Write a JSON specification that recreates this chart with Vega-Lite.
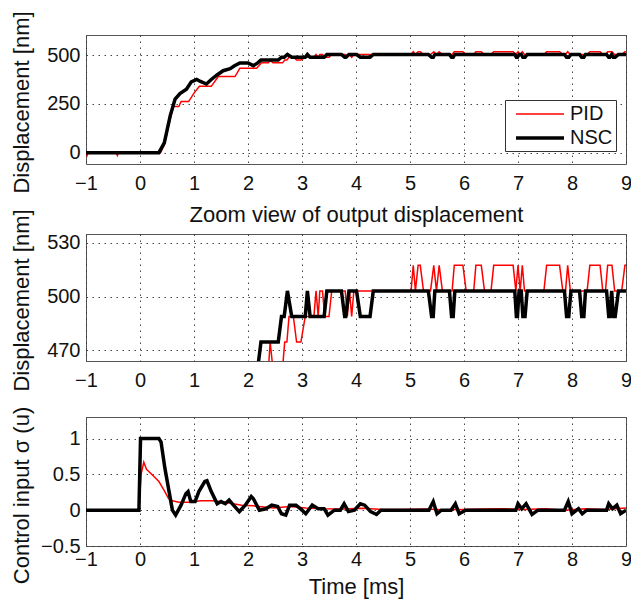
{
  "$schema": "https://vega.github.io/schema/vega-lite/v6.json",
  "padding": {"left": 9, "top": 10, "right": 0, "bottom": 4},
  "background": "white",
  "config": {
    "font": "Liberation Sans",
    "view": {"stroke": "#555555", "strokeWidth": 1},
    "axis": {
      "domain": false, "ticks": false, "grid": true,
      "gridColor": "#333333", "gridDash": [1.5, 4.5], "gridWidth": 1, "gridOpacity": 0.9,
      "labelFont": "Liberation Sans", "titleFont": "Liberation Sans",
      "labelFontSize": 20, "titleFontSize": 22, "titleFontWeight": "normal",
      "labelColor": "#111111", "titleColor": "#111111", "format": ".6~g"
    },
    "axisX": {"labelPadding": 9, "labelFlush": false},
    "axisY": {"labelPadding": 6, "titleX": -53}
  },
  "datasets": {
    "disp": [
      {"t": -1, "v": 0, "c": "PID"}, {"t": -0.98, "v": -14, "c": "PID"}, {"t": -0.96, "v": 0, "c": "PID"},
      {"t": -0.44, "v": 0, "c": "PID"}, {"t": -0.42, "v": -14, "c": "PID"}, {"t": -0.4, "v": 0, "c": "PID"},
      {"t": 0.38, "v": 0, "c": "PID"}, {"t": 0.45, "v": 40, "c": "PID"}, {"t": 0.56, "v": 175, "c": "PID"},
      {"t": 0.62, "v": 236, "c": "PID"}, {"t": 0.72, "v": 236, "c": "PID"}, {"t": 0.76, "v": 262, "c": "PID"},
      {"t": 0.9, "v": 262, "c": "PID"}, {"t": 1.0, "v": 305, "c": "PID"}, {"t": 1.1, "v": 340, "c": "PID"},
      {"t": 1.32, "v": 340, "c": "PID"}, {"t": 1.45, "v": 390, "c": "PID"}, {"t": 1.76, "v": 390, "c": "PID"},
      {"t": 1.85, "v": 433, "c": "PID"}, {"t": 2.16, "v": 433, "c": "PID"}, {"t": 2.25, "v": 460.3, "c": "PID"},
      {"t": 2.38, "v": 460.3, "c": "PID"}, {"t": 2.41, "v": 474.6, "c": "PID"}, {"t": 2.46, "v": 460.3, "c": "PID"},
      {"t": 2.64, "v": 460.3, "c": "PID"}, {"t": 2.68, "v": 474.6, "c": "PID"}, {"t": 2.72, "v": 474.6, "c": "PID"},
      {"t": 2.76, "v": 488.9, "c": "PID"}, {"t": 2.84, "v": 488.9, "c": "PID"}, {"t": 2.9, "v": 474.6, "c": "PID"},
      {"t": 2.98, "v": 474.6, "c": "PID"}, {"t": 3.06, "v": 488.9, "c": "PID"}, {"t": 3.22, "v": 488.9, "c": "PID"},
      {"t": 3.26, "v": 503.2, "c": "PID"}, {"t": 3.3, "v": 488.9, "c": "PID"}, {"t": 3.33, "v": 503.2, "c": "PID"},
      {"t": 3.38, "v": 503.2, "c": "PID"}, {"t": 3.42, "v": 488.9, "c": "PID"}, {"t": 3.5, "v": 488.9, "c": "PID"},
      {"t": 3.55, "v": 503.2, "c": "PID"}, {"t": 3.8, "v": 503.2, "c": "PID"}, {"t": 3.84, "v": 488.9, "c": "PID"},
      {"t": 3.88, "v": 503.2, "c": "PID"}, {"t": 3.92, "v": 488.9, "c": "PID"}, {"t": 3.96, "v": 503.2, "c": "PID"},
      {"t": 5.02, "v": 503.2, "c": "PID"}, {"t": 5.06, "v": 517.5, "c": "PID"}, {"t": 5.1, "v": 503.2, "c": "PID"},
      {"t": 5.15, "v": 517.5, "c": "PID"}, {"t": 5.19, "v": 517.5, "c": "PID"}, {"t": 5.25, "v": 503.2, "c": "PID"},
      {"t": 5.38, "v": 503.2, "c": "PID"}, {"t": 5.44, "v": 517.5, "c": "PID"}, {"t": 5.49, "v": 503.2, "c": "PID"},
      {"t": 5.54, "v": 517.5, "c": "PID"}, {"t": 5.6, "v": 503.2, "c": "PID"}, {"t": 5.78, "v": 503.2, "c": "PID"},
      {"t": 5.82, "v": 517.5, "c": "PID"}, {"t": 5.98, "v": 517.5, "c": "PID"}, {"t": 6.04, "v": 503.2, "c": "PID"},
      {"t": 6.18, "v": 503.2, "c": "PID"}, {"t": 6.22, "v": 517.5, "c": "PID"}, {"t": 6.32, "v": 517.5, "c": "PID"},
      {"t": 6.38, "v": 503.2, "c": "PID"}, {"t": 6.5, "v": 503.2, "c": "PID"}, {"t": 6.55, "v": 517.5, "c": "PID"},
      {"t": 6.91, "v": 517.5, "c": "PID"}, {"t": 6.96, "v": 503.2, "c": "PID"}, {"t": 7.0, "v": 517.5, "c": "PID"},
      {"t": 7.04, "v": 503.2, "c": "PID"}, {"t": 7.08, "v": 517.5, "c": "PID"}, {"t": 7.12, "v": 503.2, "c": "PID"},
      {"t": 7.48, "v": 503.2, "c": "PID"}, {"t": 7.53, "v": 517.5, "c": "PID"}, {"t": 7.77, "v": 517.5, "c": "PID"},
      {"t": 7.83, "v": 503.2, "c": "PID"}, {"t": 7.88, "v": 503.2, "c": "PID"}, {"t": 7.92, "v": 517.5, "c": "PID"},
      {"t": 7.97, "v": 503.2, "c": "PID"}, {"t": 8.28, "v": 503.2, "c": "PID"}, {"t": 8.33, "v": 517.5, "c": "PID"},
      {"t": 8.52, "v": 517.5, "c": "PID"}, {"t": 8.57, "v": 503.2, "c": "PID"}, {"t": 8.62, "v": 503.2, "c": "PID"},
      {"t": 8.66, "v": 517.5, "c": "PID"}, {"t": 8.74, "v": 517.5, "c": "PID"}, {"t": 8.79, "v": 503.2, "c": "PID"},
      {"t": 8.92, "v": 503.2, "c": "PID"}, {"t": 8.98, "v": 517.5, "c": "PID"}, {"t": 9, "v": 517.5, "c": "PID"},

      {"t": -1, "v": 0, "c": "NSC"}, {"t": 0.35, "v": 0, "c": "NSC"}, {"t": 0.45, "v": 50, "c": "NSC"},
      {"t": 0.56, "v": 190, "c": "NSC"}, {"t": 0.65, "v": 275, "c": "NSC"}, {"t": 0.74, "v": 303, "c": "NSC"},
      {"t": 0.86, "v": 325, "c": "NSC"}, {"t": 0.95, "v": 363, "c": "NSC"}, {"t": 1.05, "v": 375, "c": "NSC"},
      {"t": 1.12, "v": 365, "c": "NSC"}, {"t": 1.23, "v": 352, "c": "NSC"}, {"t": 1.32, "v": 375, "c": "NSC"},
      {"t": 1.42, "v": 397, "c": "NSC"}, {"t": 1.54, "v": 420, "c": "NSC"}, {"t": 1.67, "v": 430, "c": "NSC"},
      {"t": 1.75, "v": 445, "c": "NSC"}, {"t": 1.85, "v": 460, "c": "NSC"}, {"t": 2.0, "v": 460, "c": "NSC"},
      {"t": 2.1, "v": 446, "c": "NSC"}, {"t": 2.18, "v": 460, "c": "NSC"}, {"t": 2.24, "v": 474.6, "c": "NSC"},
      {"t": 2.56, "v": 474.6, "c": "NSC"}, {"t": 2.62, "v": 488.9, "c": "NSC"}, {"t": 2.67, "v": 488.9, "c": "NSC"},
      {"t": 2.73, "v": 503.2, "c": "NSC"}, {"t": 2.81, "v": 488.9, "c": "NSC"}, {"t": 3.06, "v": 488.9, "c": "NSC"},
      {"t": 3.1, "v": 503.2, "c": "NSC"}, {"t": 3.15, "v": 488.9, "c": "NSC"}, {"t": 3.41, "v": 488.9, "c": "NSC"},
      {"t": 3.46, "v": 503.2, "c": "NSC"}, {"t": 3.73, "v": 503.2, "c": "NSC"}, {"t": 3.79, "v": 488.9, "c": "NSC"},
      {"t": 3.81, "v": 488.9, "c": "NSC"}, {"t": 3.87, "v": 503.2, "c": "NSC"}, {"t": 4.01, "v": 503.2, "c": "NSC"},
      {"t": 4.08, "v": 488.9, "c": "NSC"}, {"t": 4.26, "v": 488.9, "c": "NSC"}, {"t": 4.32, "v": 503.2, "c": "NSC"},
      {"t": 5.34, "v": 503.2, "c": "NSC"}, {"t": 5.4, "v": 488.9, "c": "NSC"}, {"t": 5.43, "v": 488.9, "c": "NSC"},
      {"t": 5.46, "v": 503.2, "c": "NSC"}, {"t": 5.73, "v": 503.2, "c": "NSC"}, {"t": 5.77, "v": 488.9, "c": "NSC"},
      {"t": 5.8, "v": 488.9, "c": "NSC"}, {"t": 5.83, "v": 503.2, "c": "NSC"}, {"t": 6.94, "v": 503.2, "c": "NSC"},
      {"t": 6.97, "v": 488.9, "c": "NSC"}, {"t": 6.99, "v": 488.9, "c": "NSC"}, {"t": 7.02, "v": 503.2, "c": "NSC"},
      {"t": 7.06, "v": 503.2, "c": "NSC"}, {"t": 7.09, "v": 488.9, "c": "NSC"}, {"t": 7.13, "v": 488.9, "c": "NSC"},
      {"t": 7.17, "v": 503.2, "c": "NSC"}, {"t": 7.86, "v": 503.2, "c": "NSC"}, {"t": 7.9, "v": 488.9, "c": "NSC"},
      {"t": 7.94, "v": 488.9, "c": "NSC"}, {"t": 7.98, "v": 503.2, "c": "NSC"}, {"t": 8.14, "v": 503.2, "c": "NSC"},
      {"t": 8.18, "v": 488.9, "c": "NSC"}, {"t": 8.22, "v": 488.9, "c": "NSC"}, {"t": 8.25, "v": 503.2, "c": "NSC"},
      {"t": 8.64, "v": 503.2, "c": "NSC"}, {"t": 8.68, "v": 488.9, "c": "NSC"}, {"t": 8.7, "v": 488.9, "c": "NSC"},
      {"t": 8.735, "v": 503.2, "c": "NSC"}, {"t": 8.765, "v": 488.9, "c": "NSC"}, {"t": 8.8, "v": 488.9, "c": "NSC"},
      {"t": 8.86, "v": 503.2, "c": "NSC"}, {"t": 9, "v": 503.2, "c": "NSC"}
    ],
    "ctrl": [
      {"t": -1, "v": 0, "c": "PID"}, {"t": -0.02, "v": 0, "c": "PID"}, {"t": 0.02, "v": 0.5, "c": "PID"},
      {"t": 0.07, "v": 0.67, "c": "PID"}, {"t": 0.12, "v": 0.57, "c": "PID"}, {"t": 0.23, "v": 0.49, "c": "PID"},
      {"t": 0.35, "v": 0.4, "c": "PID"}, {"t": 0.46, "v": 0.26, "c": "PID"}, {"t": 0.53, "v": 0.16, "c": "PID"},
      {"t": 0.6, "v": 0.13, "c": "PID"}, {"t": 0.72, "v": 0.11, "c": "PID"}, {"t": 0.9, "v": 0.11, "c": "PID"},
      {"t": 1.13, "v": 0.13, "c": "PID"}, {"t": 1.35, "v": 0.13, "c": "PID"}, {"t": 1.58, "v": 0.11, "c": "PID"},
      {"t": 1.73, "v": 0.09, "c": "PID"}, {"t": 1.88, "v": 0.07, "c": "PID"}, {"t": 2.1, "v": 0.06, "c": "PID"},
      {"t": 2.48, "v": 0.03, "c": "PID"}, {"t": 2.77, "v": 0.05, "c": "PID"}, {"t": 3.07, "v": 0.03, "c": "PID"},
      {"t": 3.37, "v": 0.02, "c": "PID"}, {"t": 3.75, "v": 0.015, "c": "PID"}, {"t": 4.12, "v": 0.025, "c": "PID"},
      {"t": 4.5, "v": 0.01, "c": "PID"}, {"t": 4.87, "v": 0.01, "c": "PID"}, {"t": 5.3, "v": 0.015, "c": "PID"},
      {"t": 5.6, "v": 0.005, "c": "PID"}, {"t": 6.0, "v": 0.01, "c": "PID"}, {"t": 6.36, "v": 0.015, "c": "PID"},
      {"t": 6.74, "v": 0.02, "c": "PID"}, {"t": 7.11, "v": 0.01, "c": "PID"}, {"t": 7.5, "v": 0.02, "c": "PID"},
      {"t": 7.86, "v": 0.0, "c": "PID"}, {"t": 8.23, "v": 0.02, "c": "PID"}, {"t": 8.6, "v": 0.01, "c": "PID"},
      {"t": 9, "v": 0.03, "c": "PID"},

      {"t": -1, "v": 0, "c": "NSC"}, {"t": -0.02, "v": 0, "c": "NSC"}, {"t": 0.01, "v": 1, "c": "NSC"},
      {"t": 0.35, "v": 1, "c": "NSC"}, {"t": 0.39, "v": 0.95, "c": "NSC"}, {"t": 0.46, "v": 0.59, "c": "NSC"},
      {"t": 0.6, "v": 0.0, "c": "NSC"}, {"t": 0.66, "v": -0.07, "c": "NSC"}, {"t": 0.76, "v": 0.07, "c": "NSC"},
      {"t": 0.85, "v": 0.23, "c": "NSC"}, {"t": 0.89, "v": 0.26, "c": "NSC"}, {"t": 0.94, "v": 0.12, "c": "NSC"},
      {"t": 1.02, "v": 0.12, "c": "NSC"}, {"t": 1.09, "v": 0.26, "c": "NSC"}, {"t": 1.2, "v": 0.4, "c": "NSC"},
      {"t": 1.24, "v": 0.41, "c": "NSC"}, {"t": 1.32, "v": 0.26, "c": "NSC"}, {"t": 1.43, "v": 0.09, "c": "NSC"},
      {"t": 1.5, "v": 0.12, "c": "NSC"}, {"t": 1.58, "v": 0.09, "c": "NSC"}, {"t": 1.65, "v": 0.14, "c": "NSC"},
      {"t": 1.73, "v": 0.07, "c": "NSC"}, {"t": 1.84, "v": -0.02, "c": "NSC"}, {"t": 1.95, "v": 0.07, "c": "NSC"},
      {"t": 2.06, "v": 0.19, "c": "NSC"}, {"t": 2.1, "v": 0.16, "c": "NSC"}, {"t": 2.21, "v": 0.0, "c": "NSC"},
      {"t": 2.33, "v": 0.02, "c": "NSC"}, {"t": 2.44, "v": 0.07, "c": "NSC"}, {"t": 2.55, "v": 0.05, "c": "NSC"},
      {"t": 2.62, "v": -0.05, "c": "NSC"}, {"t": 2.7, "v": -0.07, "c": "NSC"}, {"t": 2.77, "v": 0.07, "c": "NSC"},
      {"t": 2.89, "v": 0.07, "c": "NSC"}, {"t": 3.0, "v": 0.0, "c": "NSC"}, {"t": 3.07, "v": -0.05, "c": "NSC"},
      {"t": 3.19, "v": 0.07, "c": "NSC"}, {"t": 3.3, "v": 0.02, "c": "NSC"}, {"t": 3.41, "v": 0.02, "c": "NSC"},
      {"t": 3.48, "v": -0.07, "c": "NSC"}, {"t": 3.6, "v": 0.0, "c": "NSC"}, {"t": 3.71, "v": 0.0, "c": "NSC"},
      {"t": 3.78, "v": 0.09, "c": "NSC"}, {"t": 3.86, "v": -0.02, "c": "NSC"}, {"t": 3.97, "v": 0.0, "c": "NSC"},
      {"t": 4.08, "v": 0.09, "c": "NSC"}, {"t": 4.16, "v": 0.07, "c": "NSC"}, {"t": 4.27, "v": -0.02, "c": "NSC"},
      {"t": 4.38, "v": -0.06, "c": "NSC"}, {"t": 4.46, "v": 0.0, "c": "NSC"}, {"t": 5.35, "v": 0.0, "c": "NSC"},
      {"t": 5.43, "v": 0.12, "c": "NSC"}, {"t": 5.5, "v": -0.05, "c": "NSC"}, {"t": 5.58, "v": 0.0, "c": "NSC"},
      {"t": 5.76, "v": 0.0, "c": "NSC"}, {"t": 5.84, "v": 0.09, "c": "NSC"}, {"t": 5.91, "v": -0.05, "c": "NSC"},
      {"t": 6.03, "v": 0.0, "c": "NSC"}, {"t": 6.96, "v": 0.0, "c": "NSC"}, {"t": 7.0, "v": 0.09, "c": "NSC"},
      {"t": 7.07, "v": 0.02, "c": "NSC"}, {"t": 7.15, "v": 0.09, "c": "NSC"}, {"t": 7.26, "v": -0.06, "c": "NSC"},
      {"t": 7.37, "v": 0.0, "c": "NSC"}, {"t": 7.86, "v": 0.0, "c": "NSC"}, {"t": 7.93, "v": 0.12, "c": "NSC"},
      {"t": 8.0, "v": -0.05, "c": "NSC"}, {"t": 8.12, "v": 0.02, "c": "NSC"}, {"t": 8.19, "v": -0.05, "c": "NSC"},
      {"t": 8.27, "v": 0.0, "c": "NSC"}, {"t": 8.64, "v": 0.0, "c": "NSC"}, {"t": 8.68, "v": 0.09, "c": "NSC"},
      {"t": 8.75, "v": 0.02, "c": "NSC"}, {"t": 8.83, "v": 0.07, "c": "NSC"}, {"t": 8.9, "v": -0.05, "c": "NSC"},
      {"t": 9, "v": 0.0, "c": "NSC"}
    ]
  },
  "bounds": "flush",
  "spacing": 70,
  "resolve": {
    "scale": {"color": "independent", "strokeWidth": "independent"},
    "legend": {"color": "independent", "strokeWidth": "independent"}
  },
  "vconcat": [
    {
      "width": 540, "height": 129,
      "data": {"name": "disp"},
      "mark": {"type": "line", "clip": true},
      "encoding": {
        "x": {"field": "t", "type": "quantitative", "scale": {"domain": [-1, 9], "nice": false},
              "axis": {"values": [-1, 0, 1, 2, 3, 4, 5, 6, 7, 8, 9], "title": "Zoom view of output displacement", "titlePadding": 11}},
        "y": {"field": "v", "type": "quantitative", "scale": {"domain": [-58, 603], "nice": false, "zero": false},
              "axis": {"values": [0, 250, 500], "title": "Displacement [nm]", "titleY": 67}},
        "color": {"field": "c", "type": "nominal", "sort": null,
                  "scale": {"domain": ["PID", "NSC"], "range": ["#ff0000", "#000000"]},
                  "legend": {"orient": "none", "legendX": 419, "legendY": 65, "title": null, "symbolType": "M-2.4,0H2.4",
                             "symbolSize": 400, "symbolOffset": 20, "labelFontSize": 20, "labelFont": "Liberation Sans", "labelColor": "#111111",
                             "labelOffset": 18, "padding": 3, "rowPadding": 2, "strokeColor": "#333333", "fillColor": "white"}},
        "strokeWidth": {"field": "c", "type": "nominal", "sort": null,
                        "scale": {"domain": ["PID", "NSC"], "range": [1.5, 3.5]},
                        "legend": {"orient": "none", "legendX": 419, "legendY": 65, "title": null, "symbolType": "M-2.4,0H2.4",
                             "symbolSize": 400, "symbolOffset": 20, "labelFontSize": 20, "labelFont": "Liberation Sans", "labelColor": "#111111",
                             "labelOffset": 18, "padding": 3, "rowPadding": 2, "strokeColor": "#333333", "fillColor": "white"}}
      }
    },
    {
      "bounds": "flush",
      "spacing": 56,
      "resolve": {
        "scale": {"color": "independent", "strokeWidth": "independent"},
        "legend": {"color": "independent", "strokeWidth": "independent"}
      },
      "vconcat": [
        {
          "width": 540, "height": 127,
          "data": {"name": "disp"},
          "mark": {"type": "line", "clip": true},
          "encoding": {
            "x": {"field": "t", "type": "quantitative", "scale": {"domain": [-1, 9], "nice": false},
                  "axis": {"values": [-1, 0, 1, 2, 3, 4, 5, 6, 7, 8, 9], "title": null}},
            "y": {"field": "v", "type": "quantitative", "scale": {"domain": [464, 535], "nice": false, "zero": false},
                  "axis": {"values": [470, 500, 530], "title": "Displacement [nm]", "titleY": 66}},
            "color": {"field": "c", "type": "nominal", "sort": null,
                      "scale": {"domain": ["PID", "NSC"], "range": ["#ff0000", "#000000"]}, "legend": null},
            "strokeWidth": {"field": "c", "type": "nominal", "sort": null,
                            "scale": {"domain": ["PID", "NSC"], "range": [1.5, 3.5]}, "legend": null}
          }
        },
        {
          "width": 540, "height": 129,
          "data": {"name": "ctrl"},
          "mark": {"type": "line", "clip": true},
          "encoding": {
            "x": {"field": "t", "type": "quantitative", "scale": {"domain": [-1, 9], "nice": false},
                  "axis": {"values": [-1, 0, 1, 2, 3, 4, 5, 6, 7, 8, 9], "title": "Time [ms]", "titlePadding": 7, "labelPadding": 3}},
            "y": {"field": "v", "type": "quantitative", "scale": {"domain": [-0.5, 1.3], "nice": false, "zero": false},
                  "axis": {"values": [-0.5, 0, 0.5, 1], "title": "Control input σ (u)", "titleY": 78}},
            "color": {"field": "c", "type": "nominal", "sort": null,
                      "scale": {"domain": ["PID", "NSC"], "range": ["#ff0000", "#000000"]}, "legend": null},
            "strokeWidth": {"field": "c", "type": "nominal", "sort": null,
                            "scale": {"domain": ["PID", "NSC"], "range": [1.5, 3.5]}, "legend": null}
          }
        }
      ]
    }
  ]
}
